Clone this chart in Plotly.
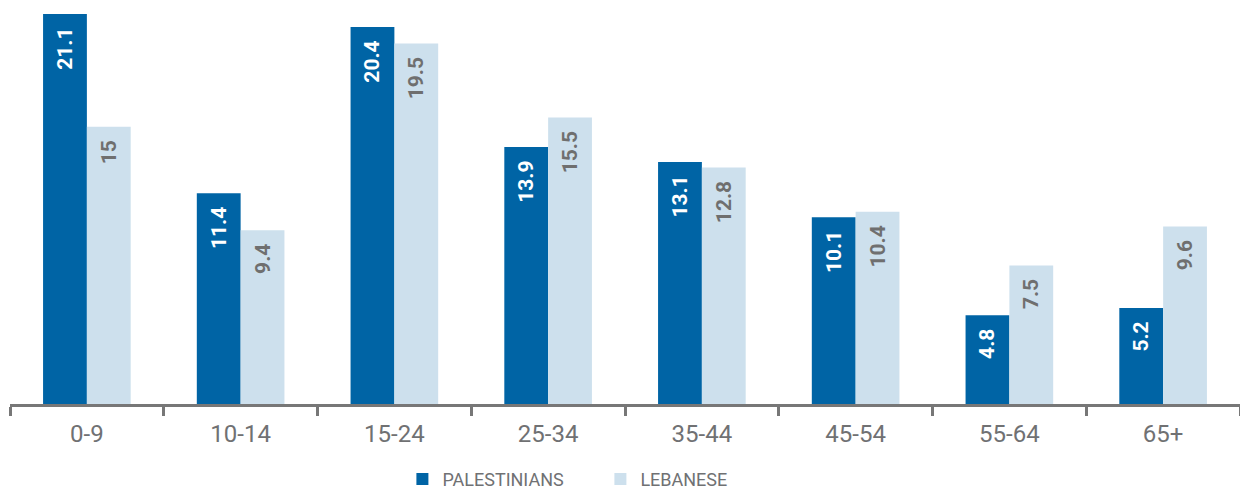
import plotly.graph_objects as go

categories = ["0-9", "10-14", "15-24", "25-34", "35-44", "45-54", "55-64", "65+"]
palestinians = [21.1, 11.4, 20.4, 13.9, 13.1, 10.1, 4.8, 5.2]
lebanese = [15, 9.4, 19.5, 15.5, 12.8, 10.4, 7.5, 9.6]

DARK = "#0064A5"
LIGHT = "#CDE0ED"
GRAY = "#707173"
FONT = "Roboto, Liberation Sans, sans-serif"
PAD = "\u00a0\u00a0"

fig = go.Figure()
fig.add_trace(go.Bar(
    x=categories, y=palestinians, name="PALESTINIANS",
    marker=dict(color=DARK, line=dict(width=0)),
    text=[str(v) + PAD for v in palestinians], textposition="inside",
    insidetextanchor="end", textangle=-90,
    textfont=dict(color="white", size=21, family=FONT, weight=700),
    cliponaxis=False,
))
fig.add_trace(go.Bar(
    x=categories, y=lebanese, name="LEBANESE",
    marker=dict(color=LIGHT, line=dict(width=0)),
    text=[str(v) + PAD for v in lebanese], textposition="inside",
    insidetextanchor="end", textangle=-90,
    textfont=dict(color="#6f6f6f", size=21, family=FONT, weight=700),
    cliponaxis=False,
))

fig.update_layout(
    width=1240, height=490,
    margin=dict(l=10, r=0, t=0, b=86, autoexpand=False),
    paper_bgcolor="white", plot_bgcolor="white",
    barmode="group", bargap=0.43, bargroupgap=0,
    uniformtext=dict(minsize=8, mode=False),
    legend=dict(
        orientation="h", x=0.480, xanchor="center",
        yref="container", y=0.022, yanchor="middle",
        font=dict(family=FONT, size=18, color=GRAY),
        itemwidth=30, traceorder="normal",
        entrywidth=153, entrywidthmode="pixels",
        tracegroupgap=0,
    ),
    font=dict(family=FONT),
)
fig.update_xaxes(
    automargin=False,
    showline=True, linecolor="#777777", linewidth=2.5,
    ticks="outside", tickson="boundaries", ticklen=9, tickwidth=2.5, tickcolor="#777777",
    tickfont=dict(size=24, color=GRAY, family=FONT),
    ticklabelstandoff=6,
    showgrid=False,
)
fig.update_yaxes(
    automargin=False,
    range=[0, 21.86], visible=False, showgrid=False, zeroline=False,
)

fig.write_html("out.html")
